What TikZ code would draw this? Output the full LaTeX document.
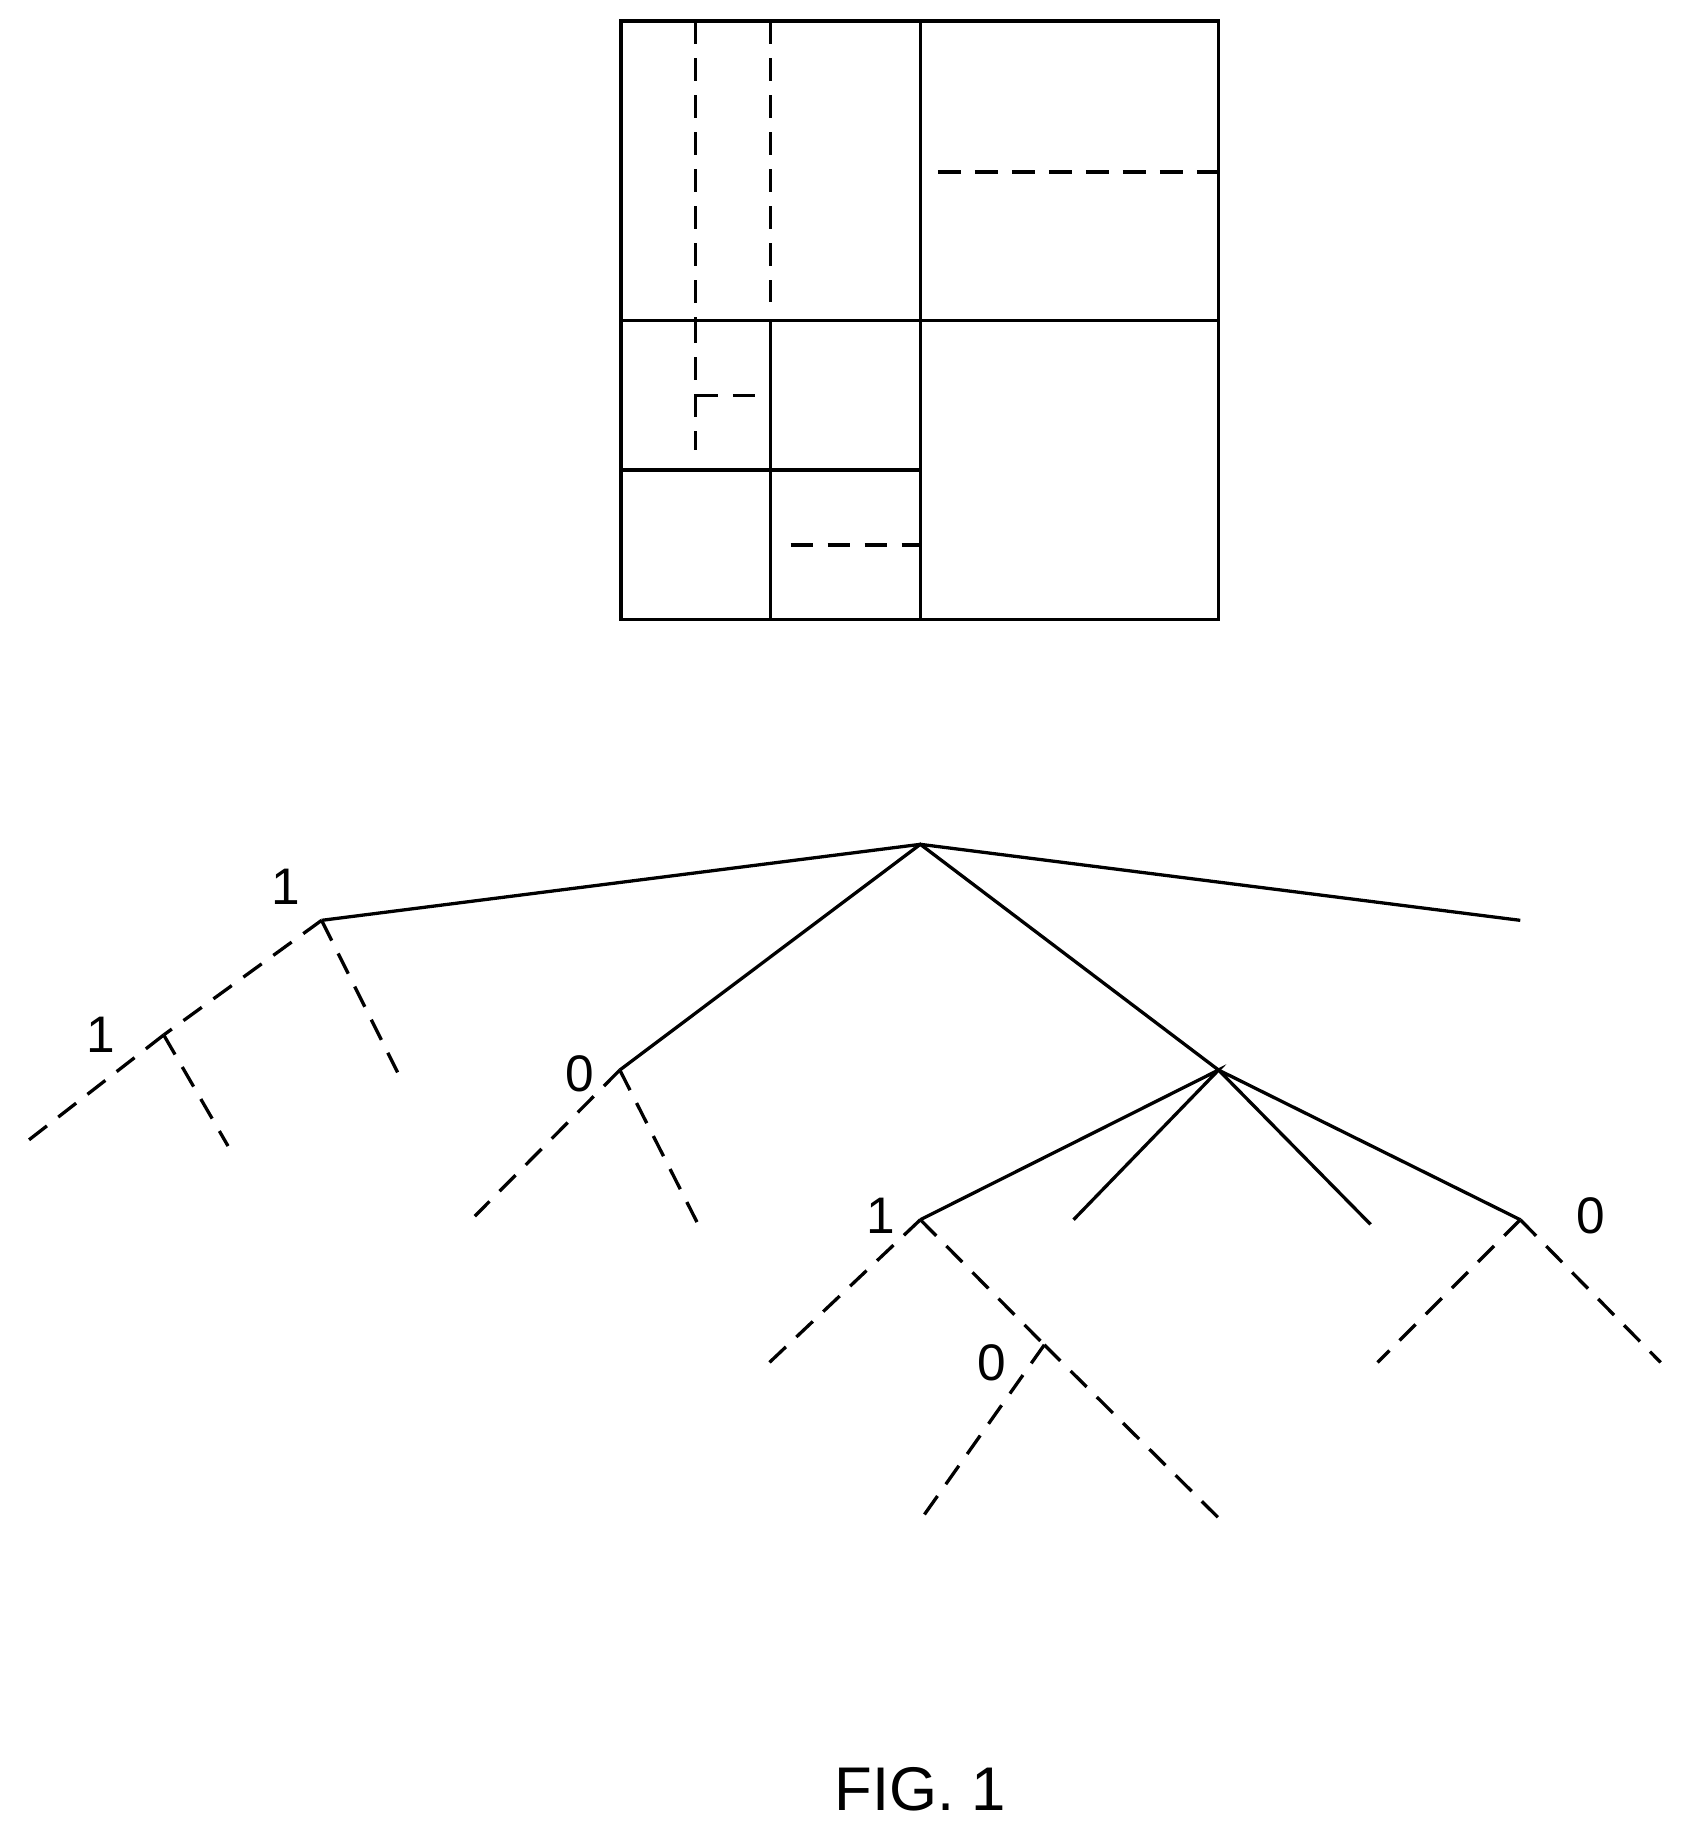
\documentclass[tikz,border=0pt]{standalone}
\usepackage{fontspec}
\setmainfont{Liberation Sans}
\begin{document}
\begin{tikzpicture}[x=0.01cm,y=-0.01cm,line width=0.8pt,
  dsh/.style={dash pattern=on 5.5pt off 3.5pt},
  lbl/.style={font=\fontsize{12.5}{15}\selectfont,inner sep=0pt}]
\useasboundingbox (0,0) rectangle (1440,1570);
% grid
\draw (531,18) rectangle (1042,530);
\draw (787,18) -- (787,530);
\draw (531,274) -- (1042,274);
\draw (659,274) -- (659,530);
\draw (531,402) -- (787,402);
\draw[dsh] (595,18) -- (595,274);
\draw[dsh] (659,18) -- (659,258);
\draw[dsh] (595,274) -- (595,385);
\draw[dsh] (595,338) -- (659,338);
\draw[dsh] (802,147) -- (1042,147);
\draw[dsh] (676,466) -- (787,466);
% tree nodes
\coordinate (r) at (787,722);
\coordinate (a) at (275,787);
\coordinate (b) at (530,915);
\coordinate (c) at (1042,915);
\coordinate (d) at (1300,787);
\coordinate (c1) at (787,1043);
\coordinate (c2) at (918,1043);
\coordinate (c3) at (1172,1047);
\coordinate (c4) at (1300,1043);
\coordinate (a1) at (140,885);
\coordinate (a2) at (340,917);
\coordinate (a11) at (18,980);
\coordinate (a12) at (195,980);
\coordinate (b1) at (406,1040);
\coordinate (b2) at (596,1045);
\coordinate (e1) at (658,1165);
\coordinate (e2) at (893,1150);
\coordinate (e21) at (787,1300);
\coordinate (e22) at (1042,1298);
\coordinate (f1) at (1178,1165);
\coordinate (f2) at (1420,1165);
\draw (a) -- (r) -- (d);
\draw (b) -- (r) -- (c);
\draw (c1) -- (c) -- (c2);
\draw (c3) -- (c) -- (c4);
\draw[dsh] (a) -- (a1); \draw[dsh] (a) -- (a2);
\draw[dsh] (a1) -- (a11); \draw[dsh] (a1) -- (a12);
\draw[dsh] (b) -- (b1); \draw[dsh] (b) -- (b2);
\draw[dsh] (c1) -- (e1); \draw[dsh] (c1) -- (e2);
\draw[dsh] (e2) -- (e21); \draw[dsh] (e2) -- (e22);
\draw[dsh] (c4) -- (f1); \draw[dsh] (c4) -- (f2);
\node[lbl] (l1) at (244,758) {1};
\node[lbl] (l2) at (86,885) {1};
\node[lbl] (l3) at (496,918) {0};
\node[lbl] (l4) at (753,1040) {1};
\node[lbl] (l5) at (848,1165) {0};
\node[lbl] (l6) at (1360,1040) {0};
\node[font=\fontsize{15}{18}\selectfont,inner sep=0pt] (fig) at (787,1530) {FIG. 1};
\end{tikzpicture}
\end{document}
